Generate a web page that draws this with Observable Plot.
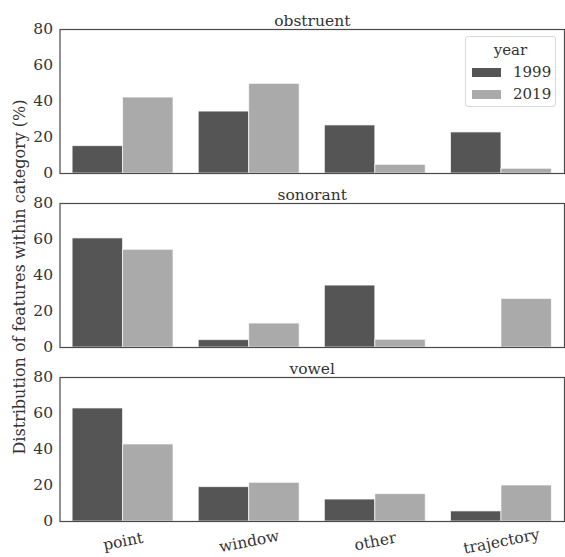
<!DOCTYPE html>
<html><head><meta charset="utf-8">
<script src="https://cdn.jsdelivr.net/npm/d3@7"></script>
<script src="https://cdn.jsdelivr.net/npm/@observablehq/plot@0.6"></script>
<style>
body{margin:0;background:#fff}
#wrap{position:relative;width:565px;height:557px;font-family:"DejaVu Serif",serif}
#leg{position:absolute;left:465px;top:36px;width:91px;height:71px;border:1px solid #d9d9d9;border-radius:3px;background:rgba(255,255,255,0.85);box-sizing:border-box}
#leg .ttl{position:absolute;left:0;right:0;top:5px;text-align:center;font-size:15px;color:#333;line-height:17px}
#leg .lgbox{position:absolute;left:6px;top:24px}
.lg-swatches{font-family:"DejaVu Serif",serif;font-size:15px;color:#333;margin:0}
.lg-swatch{height:22px;padding:0 !important}
.lg-swatch > svg{margin-right:12px}
</style></head>
<body>
<div id="wrap"></div>
<script>
const groups = ["obstruent", "sonorant", "vowel"];
const categories = ["point", "window", "other", "trajectory"];
const years = ["1999", "2019"];
const obstruent1999 = [15.2, 34.4, 26.7, 22.8];
const obstruent2019 = [42.2, 49.8, 4.8, 2.6];
const sonorant1999 = [60.6, 4.1, 34.4, 0];
const sonorant2019 = [54.3, 13.3, 4.3, 27.0];
const vowel1999 = [62.8, 19.1, 12.2, 5.6];
const vowel2019 = [42.8, 21.5, 15.2, 20.0];
const yTicks = [0, 20, 40, 60, 80];
const yLabel = "Distribution of features within category (%)";
const legendTitle = "year";
const colors = ["#555555", "#aaaaaa"];

const series = {
  obstruent: [obstruent1999, obstruent2019],
  sonorant: [sonorant1999, sonorant2019],
  vowel: [vowel1999, vowel2019]
};
const rows = [];
for (const g of groups) {
  years.forEach((yr, j) => {
    categories.forEach((c, i) => {
      rows.push({group: g, year: yr, yi: j, cat: i, value: series[g][j][i]});
    });
  });
}

const font = "DejaVu Serif";
const chart = Plot.plot({
  width: 565,
  height: 557,
  marginLeft: 59.5,
  marginRight: 1,
  marginTop: 28.3,
  marginBottom: 36.5,
  style: {fontFamily: font, fontSize: "15px", color: "#333", background: "white", overflow: "visible"},
  x: {type: "linear", domain: [-0.5, categories.length - 0.5], axis: null},
  y: {domain: [0, 80], axis: null},
  fy: {domain: groups, paddingInner: 0.1745, paddingOuter: 0, axis: null},
  color: {domain: years, range: colors},
  marks: [
    Plot.rect(rows, {
      x1: d => d.cat - 0.4 + d.yi * 0.4,
      x2: d => d.cat + d.yi * 0.4,
      y1: 0,
      y2: "value",
      fy: "group",
      fill: "year",
      stroke: "white",
      strokeOpacity: 0.7,
      strokeWidth: 1
    }),
    Plot.frame({stroke: "#4a4a4a", strokeWidth: 1.2}),
    Plot.axisY({ticks: yTicks, tickSize: 0, tickPadding: 7, label: null, fontSize: 15.5}),
    Plot.axisX({
      ticks: d3.range(categories.length),
      tickFormat: i => categories[i],
      tickSize: 0,
      tickPadding: 20,
      tickRotate: -11,
      textAnchor: "middle",
      lineAnchor: "middle",
      label: null,
      fontSize: 15.5
    }),
    Plot.text(groups, {fy: d => d, text: d => d, frameAnchor: "top", lineAnchor: "bottom", dy: -3.5, fontSize: 15.5}),
    Plot.text([yLabel], {fy: () => groups[1], text: d => d, frameAnchor: "left", textAnchor: "middle", lineAnchor: "middle", rotate: -90, dx: -40, dy: 1.5, fontSize: 16})
  ]
});
const wrap = document.getElementById("wrap");
wrap.appendChild(chart);

const leg = document.createElement("div");
leg.id = "leg";
const ttl = document.createElement("div");
ttl.className = "ttl";
ttl.textContent = legendTitle;
leg.appendChild(ttl);
const box = document.createElement("div");
box.className = "lgbox";
box.appendChild(Plot.legend({
  color: {domain: years, range: colors},
  legend: "swatches",
  columns: 1,
  swatchWidth: 29,
  swatchHeight: 9,
  className: "lg"
}));
leg.appendChild(box);
wrap.appendChild(leg);
</script>
</body></html>
